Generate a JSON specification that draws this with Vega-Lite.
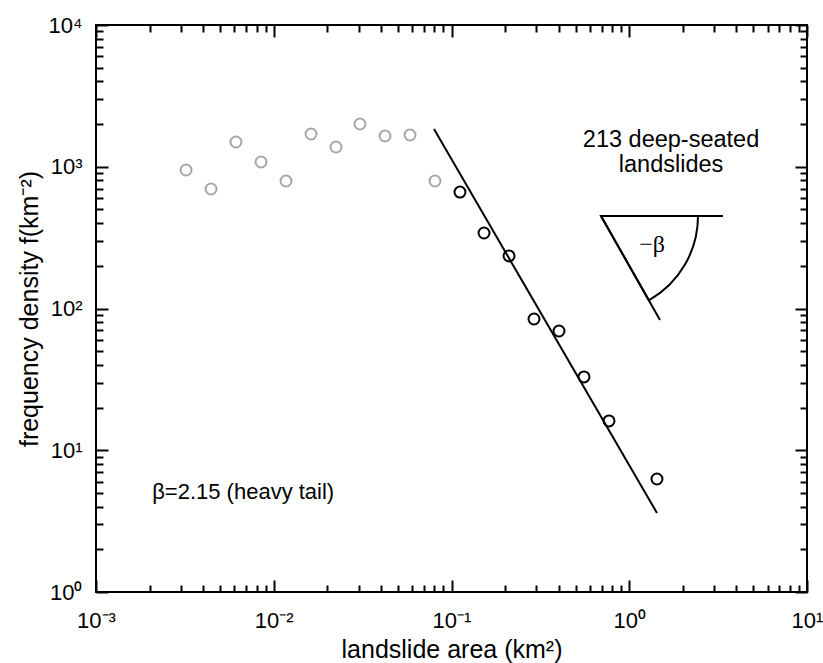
{
  "$schema": "https://vega.github.io/schema/vega-lite/v6.json",
  "width": 711,
  "height": 567,
  "autosize": {"type": "none"},
  "padding": {"left": 96, "top": 25, "right": 16, "bottom": 71},
  "background": "white",
  "config": {
    "view": {"stroke": "black", "strokeWidth": 2},
    "axis": {
      "grid": false,
      "domain": false,
      "ticks": true,
      "tickOpacity": 1,
      "tickColor": "#000000",
      "tickWidth": 2,
      "labelFont": "Liberation Sans",
      "labelFontSize": 22,
      "labelColor": "black",
      "labelOverlap": false,
      "labelFlush": false,
      "titleFont": "Liberation Sans",
      "titleFontSize": 25,
      "titleFontWeight": "normal",
      "titleColor": "black"
    }
  },
  "datasets": {
    "gray": [
      {"x": 0.00321, "y": 949},
      {"x": 0.00444, "y": 697},
      {"x": 0.00613, "y": 1495},
      {"x": 0.00848, "y": 1080},
      {"x": 0.01172, "y": 793},
      {"x": 0.01621, "y": 1702},
      {"x": 0.0224, "y": 1378},
      {"x": 0.03056, "y": 2002},
      {"x": 0.04225, "y": 1648},
      {"x": 0.05842, "y": 1675},
      {"x": 0.08074, "y": 793}
    ],
    "black": [
      {"x": 0.1116, "y": 663},
      {"x": 0.1524, "y": 341},
      {"x": 0.2107, "y": 235},
      {"x": 0.2912, "y": 84.3},
      {"x": 0.4025, "y": 69.4},
      {"x": 0.5564, "y": 32.9},
      {"x": 0.7694, "y": 16.1},
      {"x": 1.432, "y": 6.27}
    ],
    "fit": [
      {"x": 0.0797, "y": 1846},
      {"x": 1.432, "y": 3.61}
    ],
    "angle": [
      {"x": 0.6936, "y": 449.3, "x2": 3.368, "y2": 449.3},
      {"x": 0.6936, "y": 449.3, "x2": 1.489, "y2": 82.96}
    ],
    "apex": [
      {"x": 0.6936, "y": 449.3}
    ],
    "note1": [
      {"x": 1.718, "y": 1877, "label": "213 deep-seated\nlandslides"}
    ],
    "note2": [
      {"x": 0.00207, "y": 5.08, "label": "β=2.15 (heavy tail)"}
    ],
    "note3": [
      {"x": 1.343, "y": 280.5, "label": "−β"}
    ]
  },
  "encoding": {
    "x": {"field": "x", "type": "quantitative", "scale": {"type": "log", "domain": [0.001, 10], "nice": false}, "axis": null},
    "y": {"field": "y", "type": "quantitative", "scale": {"type": "log", "domain": [1, 10000], "nice": false}, "axis": null}
  },
  "layer": [
    {
      "data": {"name": "gray"},
      "mark": {"type": "point", "shape": "circle", "filled": false, "stroke": "#a6a6a6", "strokeWidth": 2, "size": 120, "opacity": 1},
      "encoding": {
        "x": {
          "field": "x", "type": "quantitative",
          "scale": {"type": "log", "domain": [0.001, 10], "nice": false},
          "axis": {
            "orient": "bottom", "offset": -12,
            "ticks": true, "tickSize": 12, "tickColor": "#000000", "tickWidth": 2, "tickOpacity": 1,
            "title": "landslide area (km²)",
            "titlePadding": 6,
            "values": [0.001, 0.01, 0.1, 1, 10],
            "labelExpr": "datum.value == 0.001 ? '10⁻³' : datum.value == 0.01 ? '10⁻²' : datum.value == 0.1 ? '10⁻¹' : datum.value == 1 ? '10⁰' : '10¹'",
            "labelPadding": 18,
            "labelBaseline": "top"
          }
        },
        "y": {
          "field": "y", "type": "quantitative",
          "scale": {"type": "log", "domain": [1, 10000], "nice": false},
          "axis": {
            "orient": "left", "offset": -12,
            "ticks": true, "tickSize": 12, "tickColor": "#000000", "tickWidth": 2, "tickOpacity": 1,
            "title": "frequency density f(km⁻²)",
            "titlePadding": 6,
            "values": [1, 10, 100, 1000, 10000],
            "labelExpr": "datum.value == 1 ? '10⁰' : datum.value == 10 ? '10¹' : datum.value == 100 ? '10²' : datum.value == 1000 ? '10³' : '10⁴'",
            "labelPadding": 14
          }
        }
      }
    },
    {
      "data": {"name": "black"},
      "mark": {"type": "point", "shape": "circle", "filled": false, "stroke": "black", "strokeWidth": 2, "size": 120, "opacity": 1},
      "encoding": {
        "x": {
          "field": "x", "type": "quantitative",
          "scale": {"type": "log", "domain": [0.001, 10], "nice": false},
          "axis": {"orient": "top", "offset": -12, "ticks": true, "tickSize": 12, "tickColor": "#000000", "tickWidth": 2, "tickOpacity": 1, "title": null, "labels": false, "values": [0.001, 0.01, 0.1, 1, 10]}
        },
        "y": {
          "field": "y", "type": "quantitative",
          "scale": {"type": "log", "domain": [1, 10000], "nice": false},
          "axis": {"orient": "right", "offset": -12, "ticks": true, "tickSize": 12, "tickColor": "#000000", "tickWidth": 2, "tickOpacity": 1, "title": null, "labels": false, "values": [1, 10, 100, 1000, 10000]}
        }
      }
    },
    {
      "data": {"name": "fit"},
      "mark": {"type": "line", "color": "black", "strokeWidth": 2},
      "encoding": {
        "x": {
          "field": "x", "type": "quantitative",
          "scale": {"type": "log", "domain": [0.001, 10], "nice": false},
          "axis": {"orient": "bottom", "offset": -7, "ticks": true, "tickSize": 7, "tickColor": "#000000", "tickWidth": 2, "tickOpacity": 1, "title": null, "labels": false,
            "values": [0.002, 0.003, 0.004, 0.005, 0.006, 0.007, 0.008, 0.009, 0.02, 0.03, 0.04, 0.05, 0.06, 0.07, 0.08, 0.09, 0.2, 0.3, 0.4, 0.5, 0.6, 0.7, 0.8, 0.9, 2, 3, 4, 5, 6, 7, 8, 9]}
        },
        "y": {
          "field": "y", "type": "quantitative",
          "scale": {"type": "log", "domain": [1, 10000], "nice": false},
          "axis": {"orient": "left", "offset": -7, "ticks": true, "tickSize": 7, "tickColor": "#000000", "tickWidth": 2, "tickOpacity": 1, "title": null, "labels": false,
            "values": [2, 3, 4, 5, 6, 7, 8, 9, 20, 30, 40, 50, 60, 70, 80, 90, 200, 300, 400, 500, 600, 700, 800, 900, 2000, 3000, 4000, 5000, 6000, 7000, 8000, 9000]}
        }
      }
    },
    {
      "data": {"name": "angle"},
      "mark": {"type": "rule", "color": "black", "strokeWidth": 2},
      "encoding": {
        "x": {
          "field": "x", "type": "quantitative",
          "scale": {"type": "log", "domain": [0.001, 10], "nice": false},
          "axis": {"orient": "top", "offset": -7, "ticks": true, "tickSize": 7, "tickColor": "#000000", "tickWidth": 2, "tickOpacity": 1, "title": null, "labels": false,
            "values": [0.002, 0.003, 0.004, 0.005, 0.006, 0.007, 0.008, 0.009, 0.02, 0.03, 0.04, 0.05, 0.06, 0.07, 0.08, 0.09, 0.2, 0.3, 0.4, 0.5, 0.6, 0.7, 0.8, 0.9, 2, 3, 4, 5, 6, 7, 8, 9]}
        },
        "y": {
          "field": "y", "type": "quantitative",
          "scale": {"type": "log", "domain": [1, 10000], "nice": false},
          "axis": {"orient": "right", "offset": -7, "ticks": true, "tickSize": 7, "tickColor": "#000000", "tickWidth": 2, "tickOpacity": 1, "title": null, "labels": false,
            "values": [2, 3, 4, 5, 6, 7, 8, 9, 20, 30, 40, 50, 60, 70, 80, 90, 200, 300, 400, 500, 600, 700, 800, 900, 2000, 3000, 4000, 5000, 6000, 7000, 8000, 9000]}
        },
        "x2": {"field": "x2"},
        "y2": {"field": "y2"}
      }
    },
    {
      "data": {"name": "apex"},
      "mark": {"type": "arc", "theta": 1.5708, "theta2": 2.6254, "radius": 97, "filled": false, "fill": null, "stroke": "black", "strokeWidth": 2},
      "encoding": {}
    },
    {
      "data": {"name": "note1"},
      "mark": {"type": "text", "align": "center", "baseline": "top", "lineBreak": "\n", "lineHeight": 25, "font": "Liberation Sans", "fontSize": 23.5, "color": "black"},
      "encoding": {"text": {"field": "label"}}
    },
    {
      "data": {"name": "note2"},
      "mark": {"type": "text", "align": "left", "baseline": "middle", "font": "Liberation Sans", "fontSize": 22, "color": "black"},
      "encoding": {"text": {"field": "label"}}
    },
    {
      "data": {"name": "note3"},
      "mark": {"type": "text", "align": "center", "baseline": "middle", "font": "Liberation Serif", "fontSize": 24, "color": "black"},
      "encoding": {"text": {"field": "label"}}
    }
  ],
  "resolve": {"axis": {"x": "independent", "y": "independent"}}
}
